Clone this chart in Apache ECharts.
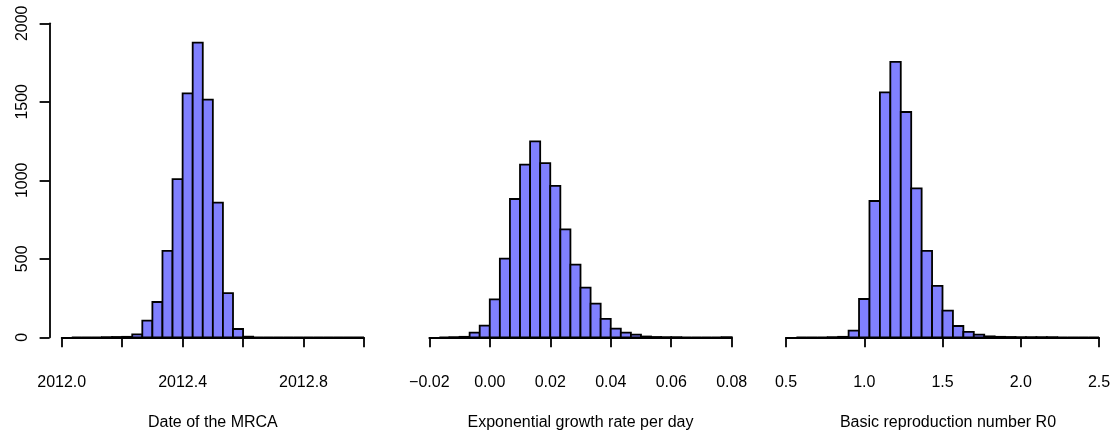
<!DOCTYPE html>
<html>
<head>
<meta charset="utf-8">
<script src="https://cdn.jsdelivr.net/npm/echarts@6/dist/echarts.min.js"></script>
<style>
html,body{margin:0;padding:0;background:#fff;}
#chart{width:1120px;height:436px;}
</style>
</head>
<body>
<div id="chart"></div>
<script>
// ---- Data ----
// Panel 1: Date of the MRCA, 29 bins of width 1/30 year starting at 2012 + 1/30
const mrcaBinStart = 2012 + 1 / 30;
const mrcaBinWidth = 1 / 30;
const mrcaCounts = [0, 0, 0, 1, 2, 3, 19, 106, 225, 550, 1008, 1554, 1877, 1514, 858, 282, 53, 4, 0, 0, 0, 0, 0, 0, 0, 0, 0, 0, 0];
const mrcaTickLabels = ['2012.0', '', '2012.4', '', '2012.8', ''];

// Panel 2: Exponential growth rate per day, 29 bins of width 1/300 starting at -5/300
const growthBinStart = -5 / 300;
const growthBinWidth = 1 / 300;
const growthCounts = [0, 1, 3, 30, 74, 242, 501, 881, 1100, 1248, 1110, 964, 688, 463, 316, 214, 117, 55, 30, 17, 5, 2, 1, 1, 0, 0, 0, 0, 1];
const growthTickLabels = ['\u22120.02', '0.00', '0.02', '0.04', '0.06', '0.08'];

// Panel 3: Basic reproduction number R0, 29 bins of width 1/15 starting at 2.5 - 29/15
const r0BinStart = 2.5 - 29 / 15;
const r0BinWidth = 1 / 15;
const r0Counts = [0, 0, 0, 1, 3, 42, 244, 868, 1560, 1754, 1435, 949, 550, 327, 170, 72, 34, 17, 6, 3, 2, 1, 1, 1, 1, 0, 0, 0, 0];
const r0TickLabels = ['0.5', '1.0', '1.5', '2.0', '2.5'];

const yTickLabels = ['0', '500', '1000', '1500', '2000'];
const titles = ['Date of the MRCA', 'Exponential growth rate per day', 'Basic reproduction number R0'];

// ---- Chart ----
function toBins(start, width, counts) {
  return counts.map((c, i) => [start + i * width, start + (i + 1) * width, c]);
}

const FONT = "'Liberation Sans', Arial, Helvetica, sans-serif";
const lineStyle = { color: '#000', width: 1.8 };

const grids = [
  { left: 61.7, top: 23.3, width: 302.3, height: 314 },
  { left: 429.3, top: 23.3, width: 302.4, height: 314 },
  { left: 786, top: 23.3, width: 313, height: 314 }
];

const xDefs = [
  { min: 2012, max: 2013, interval: 0.2, labels: mrcaTickLabels, pad: 0 },
  { min: -0.02, max: 0.08, interval: 0.02, labels: growthTickLabels, pad: 0 },
  { min: 0.5, max: 2.5, interval: 0.5, labels: r0TickLabels, pad: 11 }
];

const xAxes = xDefs.map((d, i) => ({
  type: 'value',
  gridIndex: i,
  min: d.min,
  max: d.max,
  interval: d.interval,
  offset: 12.3,
  axisLine: { show: true, lineStyle: lineStyle },
  axisTick: { show: true, length: 10, lineStyle: lineStyle },
  splitLine: { show: false },
  axisLabel: {
    margin: 25,
    color: '#000',
    fontFamily: FONT,
    fontSize: 16,
    formatter: (v, idx) => d.labels[idx] !== undefined ? d.labels[idx] : ''
  },
  name: titles[i],
  nameLocation: 'middle',
  nameGap: 65,
  nameTextStyle: { color: '#000', fontFamily: FONT, fontSize: 16, padding: [0, 0, 0, d.pad] }
}));

const yAxes = [0, 1, 2].map(i => ({
  type: 'value',
  gridIndex: i,
  min: 0,
  max: 2000,
  interval: 500,
  show: i === 0,
  offset: 12.1,
  axisLine: { show: true, lineStyle: lineStyle },
  axisTick: { show: true, length: 10, lineStyle: lineStyle },
  splitLine: { show: false },
  axisLabel: {
    rotate: 90,
    margin: 19,
    color: '#000',
    fontFamily: FONT,
    fontSize: 16,
    formatter: (v, idx) => yTickLabels[idx] !== undefined ? yTickLabels[idx] : ''
  }
}));

function renderBin(params, api) {
  const lo = api.value(0), hi = api.value(1), c = api.value(2);
  const p0 = api.coord([lo, 0]);
  const p1 = api.coord([hi, c]);
  return {
    type: 'rect',
    shape: { x: p0[0], y: p1[1], width: p1[0] - p0[0], height: p0[1] - p1[1] },
    style: { fill: '#8080ff', stroke: '#000', lineWidth: 1.8 }
  };
}

const allBins = [
  toBins(mrcaBinStart, mrcaBinWidth, mrcaCounts),
  toBins(growthBinStart, growthBinWidth, growthCounts),
  toBins(r0BinStart, r0BinWidth, r0Counts)
];

const series = allBins.map((bins, i) => ({
  type: 'custom',
  xAxisIndex: i,
  yAxisIndex: i,
  renderItem: renderBin,
  encode: { x: [0, 1], y: 2 },
  data: bins,
  clip: false,
  silent: true
}));

const chart = echarts.init(document.getElementById('chart'), null, { renderer: 'canvas' });
chart.setOption({
  animation: false,
  backgroundColor: '#fff',
  grid: grids,
  xAxis: xAxes,
  yAxis: yAxes,
  series: series
});
</script>
</body>
</html>
